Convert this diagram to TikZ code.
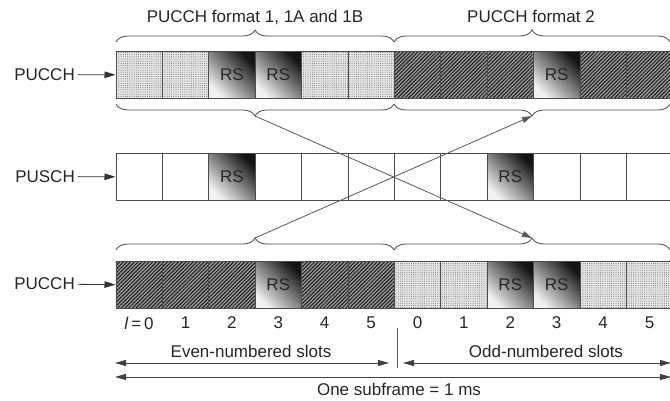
\documentclass[tikz,border=0pt]{standalone}
\usepackage{fontspec}
\setmainfont{Liberation Sans}
\usetikzlibrary{patterns.meta,decorations.pathreplacing,arrows.meta,calc}

\tikzset{
  txt/.style={font=\fontsize{17}{20}\selectfont, text=black!85, inner sep=1pt},
  chan/.style={txt, anchor=east, inner sep=3pt},
  cellbox/.style={draw=black!70, line width=0.8pt, minimum width=46.4pt,
    minimum height=47pt, inner sep=0pt, anchor=north west, txt},
  cellW/.style={cellbox, fill=white},
  cellD/.style={cellbox, preaction={fill=black!10},
    pattern={Dots[distance=2.2pt, radius=0.5pt]}, pattern color=black!55},
  cellH/.style={cellbox, preaction={fill=black!40},
    pattern={Lines[angle=45, distance=2.6pt, line width=1pt]}, pattern color=black!90},
  cellR/.style={cellbox, shading=axis, top color=black!92, bottom color=black!5,
    shading angle=-45},
  brc/.style={decorate, decoration={brace, amplitude=12pt}, draw=black!70, line width=0.8pt},
  brcm/.style={decorate, decoration={brace, amplitude=12pt, mirror}, draw=black!70, line width=0.8pt},
  conn/.style={draw=black!65, line width=0.8pt, -{Triangle[length=10pt, width=6pt]}},
  feed/.style={draw=black!80, line width=0.8pt, -{Triangle[length=11pt, width=6.5pt]}},
  dim/.style={draw=black!75, line width=0.9pt,
    {Triangle[length=11pt, width=6pt]}-{Triangle[length=11pt, width=6pt]}},
}

\begin{document}
\begin{tikzpicture}[x=1pt, y=-1pt]
\useasboundingbox (0,0) rectangle (670,400);
\clip (0,0) rectangle (670,400);

% three rows of twelve SC-FDMA symbols
\foreach \s/\t [count=\i from 0] in {D/,D/,R/RS,R/RS,D/,D/,H/,H/,H/,R/RS,H/,H/}
  \node[cell\s] (a\i) at ({115.5+46.4*\i},51) {\t};
\foreach \s/\t [count=\i from 0] in {W/,W/,R/RS,W/,W/,W/,W/,W/,R/RS,W/,W/,W/}
  \node[cell\s] (b\i) at ({115.5+46.4*\i},153) {\t};
\foreach \s/\t [count=\i from 0] in {H/,H/,H/,R/RS,H/,H/,D/,D/,R/RS,R/RS,D/,D/}
  \node[cell\s] (c\i) at ({115.5+46.4*\i},261) {\t};

% channel labels
\node[chan] (lp1) at (78,74.5) {PUCCH};
\node[chan] (lps) at (78,176.5) {PUSCH};
\node[chan] (lp2) at (78,284) {PUCCH};
\draw[feed] (lp1) -- (a0);
\draw[feed] (lps) -- (b0);
\draw[feed] (lp2) -- (c0);

% format labels and braces above the first row
\node[txt] (f1) at (255,17) {PUCCH format 1, 1A and 1B};
\node[txt] (f2) at (531,16) {PUCCH format 2};
\draw[brc] (116,42) -- (394,42);
\draw[brc] (394,42) -- (670,42);

% braces under the first row and above the last row
\draw[brcm] (116,104) -- (394,104);
\draw[brcm] (394,104) -- (670,104);
\draw[brc] (116,250) -- (394,250);
\draw[brc] (394,250) -- (670,250);
\coordinate (tA) at (255,116);
\coordinate (tB) at (532,116);
\coordinate (tC) at (255,238);
\coordinate (tD) at (532,238);

% slot hopping
\draw[conn] (tA) -- (tD);
\draw[conn] (tC) -- (tB);

% symbol indices
\node[txt] (n0) at (a0 |- 0,323) {\textit{l}\,=\,0};
\foreach \k [count=\i from 1] in {1,2,3,4,5,0,1,2,3,4,5}
  \node[txt] (n\i) at (a\i |- 0,323) {\k};

% slot and subframe extents
\node[txt] (ev) at (251,351) {Even-numbered slots};
\node[txt] (od) at (546,351) {Odd-numbered slots};
\node[txt] (sf) at (399,389) {One subframe = 1 ms};
\coordinate (e1) at (115,363);
\coordinate (e2) at (389,363);
\coordinate (o1) at (403,363);
\coordinate (o2) at (671,363);
\coordinate (s1) at (115,377);
\coordinate (s2) at (671,377);
\coordinate (v1) at (397,328);
\coordinate (v2) at (397,368);
\draw[dim] (e1) -- (e2);
\draw[dim] (o1) -- (o2);
\draw[dim] (s1) -- (s2);
\draw[draw=black!65, line width=0.9pt] (v1) -- (v2);
\end{tikzpicture}
\end{document}
